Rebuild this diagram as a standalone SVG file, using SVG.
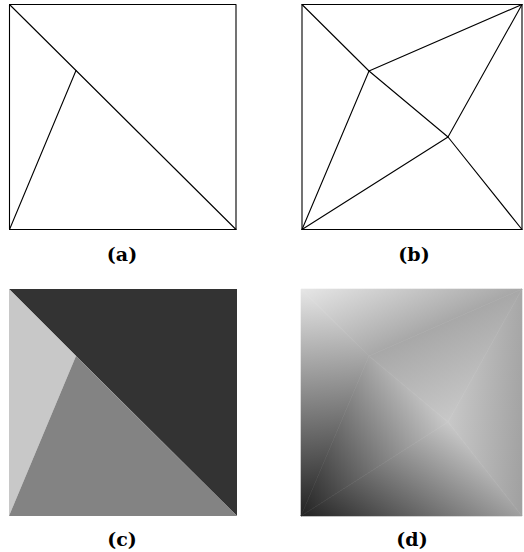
<svg xmlns="http://www.w3.org/2000/svg" width="524" height="552" viewBox="0 0 524 552">
<style>
.ln{fill:none;stroke:#000;stroke-width:1.1;stroke-linejoin:round;stroke-linecap:round}
.lbl{font-family:"DejaVu Serif","Liberation Serif",serif;font-weight:bold;font-size:19px;text-anchor:middle;fill:#000}
</style>
<defs>
<linearGradient id="t1" gradientUnits="userSpaceOnUse" x1="301" y1="289" x2="336.56" y2="370.21"><stop offset="0" stop-color="#e6e6e6"/><stop offset="1" stop-color="#a8a8a8"/></linearGradient>
<linearGradient id="t2" gradientUnits="userSpaceOnUse" x1="301" y1="289" x2="316.97" y2="514.87"><stop offset="0" stop-color="#e6e6e6"/><stop offset="1" stop-color="#222222"/></linearGradient>
<linearGradient id="t3" gradientUnits="userSpaceOnUse" x1="301" y1="516" x2="450.42" y2="426"><stop offset="0" stop-color="#222222"/><stop offset="1" stop-color="#c8c8c8"/></linearGradient>
<linearGradient id="t4" gradientUnits="userSpaceOnUse" x1="369" y1="356" x2="405.96" y2="440.41"><stop offset="0" stop-color="#a8a8a8"/><stop offset="1" stop-color="#c8c8c8"/></linearGradient>
<linearGradient id="t5" gradientUnits="userSpaceOnUse" x1="448" y1="422" x2="528.28" y2="427.71"><stop offset="0" stop-color="#c8c8c8"/><stop offset="1" stop-color="#a0a0a0"/></linearGradient>
<linearGradient id="t6" gradientUnits="userSpaceOnUse" x1="301" y1="516" x2="387.87" y2="382.78"><stop offset="0" stop-color="#222222"/><stop offset="1" stop-color="#c8c8c8"/></linearGradient>
</defs>
<rect width="524" height="552" fill="#fff"/>
<g id="panel-a">
<rect class="ln" x="9.5" y="4.5" width="226.5" height="225"/>
<polyline class="ln" points="9.5,4.5 76,70.5 236,229.5"/>
<line class="ln" x1="9.5" y1="229.5" x2="76" y2="70.5"/>
<text class="lbl" x="122" y="261">(a)</text>
</g>
<g id="panel-b">
<rect class="ln" x="302" y="4.5" width="220" height="225"/>
<polyline class="ln" points="302,4.5 369,71 448,137 522,229.5"/>
<line class="ln" x1="302" y1="229.5" x2="369" y2="71"/>
<line class="ln" x1="302" y1="229.5" x2="448" y2="137"/>
<line class="ln" x1="369" y1="71" x2="522" y2="4.5"/>
<line class="ln" x1="448" y1="137" x2="522" y2="4.5"/>
<text class="lbl" x="414" y="261">(b)</text>
</g>
<g id="panel-c">
<polygon points="9,289 237,289 237,516 76,356" fill="#333333"/>
<polygon points="9,289 76,356 9,516" fill="#c8c8c8"/>
<polygon points="9,516 76,356 237,516" fill="#838383"/>
<text class="lbl" x="122" y="546">(c)</text>
</g>
<g id="panel-d">
<polygon points="301,289 369,356 522,289" fill="url(#t1)" stroke="url(#t1)" stroke-width="0.6"/>
<polygon points="301,289 301,516 369,356" fill="url(#t2)" stroke="url(#t2)" stroke-width="0.6"/>
<polygon points="301,516 369,356 448,422" fill="url(#t3)" stroke="url(#t3)" stroke-width="0.6"/>
<polygon points="369,356 448,422 522,289" fill="url(#t4)" stroke="url(#t4)" stroke-width="0.6"/>
<polygon points="448,422 522,289 522,516" fill="url(#t5)" stroke="url(#t5)" stroke-width="0.6"/>
<polygon points="301,516 448,422 522,516" fill="url(#t6)" stroke="url(#t6)" stroke-width="0.6"/>
<text class="lbl" x="412" y="546">(d)</text>
</g>
</svg>
